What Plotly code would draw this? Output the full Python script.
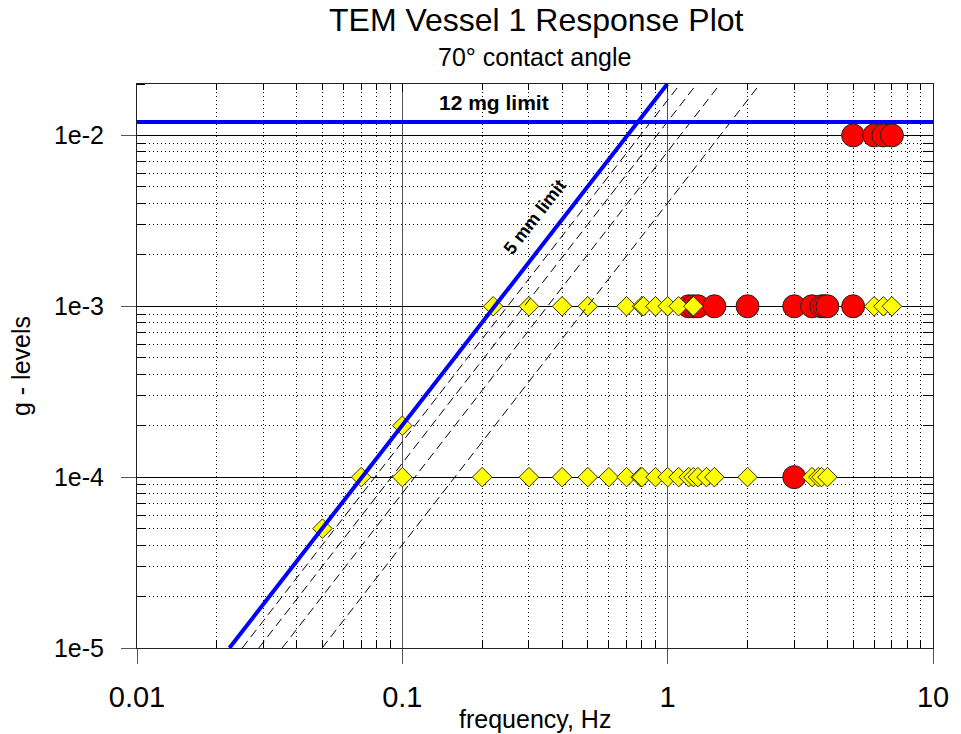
import plotly.graph_objects as go
import numpy as np

# ---------------- data ----------------
red_f_1e2 = [5.0, 6.0, 6.5, 7.0]
red_f_1e3 = [1.2, 1.25, 1.3, 1.5, 2.0, 3.0, 3.5, 3.8, 3.9, 4.0, 5.0]
red_f_1e4 = [3.0]

yel_f_1e3 = [0.22, 0.3, 0.4, 0.5, 0.7, 0.8, 0.81, 0.9, 1.0, 1.1, 1.25, 6.0, 6.5, 7.0]
yel_f_1e4 = [0.07, 0.1, 0.2, 0.3, 0.4, 0.5, 0.6, 0.7, 0.79, 0.8, 0.9, 1.0, 1.1,
             1.2, 1.25, 1.3, 1.4, 1.5, 2.0, 3.5, 3.7, 3.8, 4.0]
yel_f_extra = [0.05, 0.1]
yel_g_extra = [5e-5, 2e-4]

limit_g = 0.012                      # 12 mg limit
disp_limit_mm = 5.0                  # 5 mm limit
disp_other_mm = [4.0, 3.0, 2.0, 1.0] # dashed displacement lines
g_span = [1e-5, 0.02]

x_ticks = [0.01, 0.1, 1, 10]
x_ticktext = ["0.01", "0.1", "1", "10"]
y_ticks = [1e-5, 1e-4, 1e-3, 1e-2]
y_ticktext = ["1e-5", "1e-4", "1e-3", "1e-2"]

FONT = "Arial, Liberation Sans, sans-serif"

# plot-area geometry (pixels) used to place paper-referenced text
L, R, T, B = 137, 940, 84, 648
W, H = R - L, B - T


def px_x(px):
    return (px - L) / W


def px_y(py):
    return (B - py) / H


def freq_for(g, d_mm):
    # frequency at which displacement amplitude d_mm gives acceleration g (in g units)
    return np.sqrt(np.array(g) * 9.81 / (d_mm / 1000.0)) / (2 * np.pi)


fig = go.Figure()

# red circles
red_x = red_f_1e2 + red_f_1e3 + red_f_1e4
red_y = [1e-2] * len(red_f_1e2) + [1e-3] * len(red_f_1e3) + [1e-4] * len(red_f_1e4)
fig.add_trace(go.Scatter(x=red_x, y=red_y, mode="markers",
                         marker=dict(symbol="circle", size=23, color="#ff0000",
                                     line=dict(color="#222222", width=1)),
                         showlegend=False))

# yellow diamonds
yel_x = yel_f_1e3 + yel_f_1e4 + yel_f_extra
yel_y = [1e-3] * len(yel_f_1e3) + [1e-4] * len(yel_f_1e4) + yel_g_extra
fig.add_trace(go.Scatter(x=yel_x, y=yel_y, mode="markers",
                         marker=dict(symbol="diamond", size=15, color="#ffff00",
                                     line=dict(color="#333300", width=1)),
                         showlegend=False))

# dashed displacement lines
for d in disp_other_mm:
    fig.add_trace(go.Scatter(x=freq_for(g_span, d), y=g_span, mode="lines",
                             line=dict(color="black", width=1, dash="9px,5px"),
                             showlegend=False, hoverinfo="skip"))

# 5 mm limit
fig.add_trace(go.Scatter(x=freq_for(g_span, disp_limit_mm), y=g_span, mode="lines",
                         line=dict(color="#0000ff", width=4),
                         showlegend=False, hoverinfo="skip"))
# 12 mg limit
fig.add_trace(go.Scatter(x=[0.01, 10], y=[limit_g, limit_g], mode="lines",
                         line=dict(color="#0000ff", width=4),
                         showlegend=False, hoverinfo="skip"))

# invisible trace that carries the mirrored (top/right) tick axes
fig.add_trace(go.Scatter(x=[0.01], y=[1e-5], xaxis="x2", yaxis="y2", mode="markers",
                         marker=dict(opacity=0), showlegend=False, hoverinfo="skip"))

minor_x = [k * 10.0 ** n for n in (-2, -1, 0) for k in range(2, 10)]
minor_y = [k * 10.0 ** n for n in (-5, -4, -3, -2) for k in range(2, 10) if k * 10.0 ** n <= 0.02]

fig.update_layout(
    xaxis=dict(type="log", range=[-2, 1], tickvals=x_ticks, ticktext=x_ticktext,
               ticks="outside", ticklen=15, tickcolor="#555555", tickwidth=1,
               ticklabelstandoff=8,
               showgrid=True, gridcolor="#555555", gridwidth=1,
               showline=True, linecolor="#222222", linewidth=1, mirror=True,
               zeroline=False,
               tickfont=dict(family=FONT, size=29, color="black"),
               minor=dict(tickvals=minor_x, ticks="inside", ticklen=7, tickcolor="black",
                          showgrid=True, gridcolor="black", gridwidth=1, griddash="1px,3px")),
    yaxis=dict(type="log", range=[-5, np.log10(0.02)], tickvals=y_ticks, ticktext=y_ticktext,
               ticks="outside", ticklen=15, tickcolor="#555555", tickwidth=1,
               ticklabelstandoff=12,
               showgrid=True, gridcolor="black", gridwidth=1,
               showline=True, linecolor="#222222", linewidth=1, mirror=True,
               zeroline=False,
               tickfont=dict(family=FONT, size=25, color="black"),
               minor=dict(tickvals=minor_y, ticks="inside", ticklen=8, tickcolor="black",
                          showgrid=True, gridcolor="black", gridwidth=1, griddash="1px,3px")),
    xaxis2=dict(type="log", range=[-2, 1], overlaying="x", side="top",
                tickvals=x_ticks, ticks="inside", ticklen=8, tickcolor="black",
                showticklabels=False, showgrid=False, zeroline=False, showline=False,
                minor=dict(tickvals=minor_x, ticks="inside", ticklen=6, tickcolor="black",
                           showgrid=False)),
    yaxis2=dict(type="log", range=[-5, np.log10(0.02)], overlaying="y", side="right",
                tickvals=y_ticks, ticks="inside", ticklen=10, tickcolor="black",
                showticklabels=False, showgrid=False, zeroline=False, showline=False,
                minor=dict(tickvals=minor_y, ticks="inside", ticklen=10, tickcolor="black",
                           showgrid=False)),
)

fig.add_annotation(x=np.log10(0.221), y=np.log10(0.0156), xref="x", yref="y",
                   text="<b>12 mg limit</b>", showarrow=False,
                   font=dict(family=FONT, size=21, color="black"))
fig.add_annotation(x=np.log10(0.315), y=np.log10(0.00335), xref="x", yref="y",
                   text="<b>5 mm limit</b>", showarrow=False, textangle=-52,
                   font=dict(family=FONT, size=18, color="black"))

# titles and axis titles
fig.add_annotation(x=px_x(540), y=px_y(20), xref="paper", yref="paper",
                   text="TEM Vessel 1 Response Plot", showarrow=False,
                   xanchor="center", yanchor="middle",
                   font=dict(family=FONT, size=32, color="black"))
fig.add_annotation(x=px_x(538), y=px_y(57), xref="paper", yref="paper",
                   text="70° contact angle", showarrow=False,
                   xanchor="center", yanchor="middle",
                   font=dict(family=FONT, size=25, color="black"))
fig.add_annotation(x=px_x(538), y=px_y(719), xref="paper", yref="paper",
                   text="frequency, Hz", showarrow=False, xanchor="center", yanchor="middle",
                   font=dict(family=FONT, size=25, color="black"))
fig.add_annotation(x=px_x(20), y=px_y(366), xref="paper", yref="paper",
                   text="g - levels", showarrow=False, textangle=-90,
                   xanchor="center", yanchor="middle",
                   font=dict(family=FONT, size=25, color="black"))

fig.update_layout(
    width=961, height=734,
    margin=dict(l=L, r=961 - R, t=T, b=734 - B),
    paper_bgcolor="white", plot_bgcolor="white",
    showlegend=False,
)

fig.write_html("out.html", config={"displayModeBar": False},
               post_script="document.body.style.margin='0';document.body.style.overflow='hidden';")
